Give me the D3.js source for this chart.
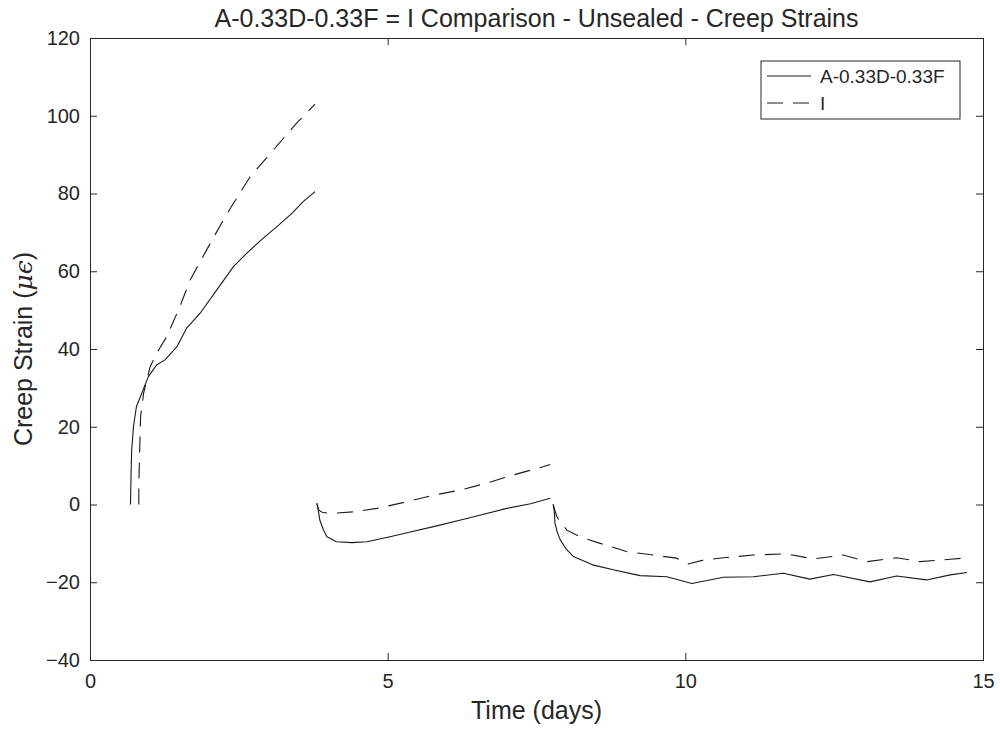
<!DOCTYPE html>
<html>
<head>
<meta charset="utf-8">
<script src="https://cdn.jsdelivr.net/npm/d3@7"></script>
<style>
  html, body { margin: 0; padding: 0; background: #fff; }
  svg { display: block; }
  text { font-family: "Liberation Sans", Arial, Helvetica, sans-serif; fill: #262626; }
</style>
</head>
<body>
<div id="chart"></div>
<script>
// ---------------- data ----------------
const seriesNames = ["A-0.33D-0.33F", "I"];
const titleText = "A-0.33D-0.33F = I Comparison - Unsealed - Creep Strains";
const xLabelText = "Time (days)";
const xTicks = [0, 5, 10, 15];
const yTicks = [-40, -20, 0, 20, 40, 60, 80, 100, 120];

// solid series (A-0.33D-0.33F); null marks a break between loading segments
const solidDays = [0.68,0.69,0.70,0.73,0.78,0.87,0.98,1.12,1.26,1.46,1.62,1.85,2.13,2.41,2.63,2.91,3.14,3.40,3.58,3.78,
  null,
  3.81,3.83,3.86,3.92,3.98,4.14,4.40,4.65,5.04,5.40,5.77,6.33,7.00,7.40,7.73,
  null,
  7.78,7.80,7.81,7.85,7.90,8.00,8.12,8.46,8.79,9.24,9.69,10.11,10.64,11.14,11.65,12.09,12.49,13.10,13.55,14.05,14.45,14.73];
const solidStrain = [0,8,14,20,25.2,28.6,32.9,35.9,37.2,40.6,45.3,49.2,55.2,61.2,64.6,68.5,71.5,75.0,77.9,80.5,
  null,
  0.3,-1,-4,-6.5,-8.3,-9.6,-9.8,-9.6,-8.3,-7.0,-5.7,-3.6,-1.0,0.2,1.6,
  null,
  0,-2,-4.8,-7.2,-9.1,-11.5,-13.4,-15.6,-16.8,-18.3,-18.6,-20.3,-18.7,-18.6,-17.7,-19.2,-18.0,-19.9,-18.4,-19.4,-18.1,-17.5];

// dashed series (I)
const dashedDays = [0.82,0.82,0.83,0.85,0.90,1.01,1.12,1.29,1.51,1.68,1.96,2.24,2.41,2.69,3.08,3.47,3.78,
  null,
  3.81,3.84,3.90,4.03,4.42,4.82,5.32,5.77,6.22,6.66,7.11,7.61,7.73,
  null,
  7.78,7.81,7.84,8.01,8.23,8.57,9.01,9.46,9.85,10.05,10.30,10.64,11.14,11.70,12.15,12.65,13.05,13.55,13.94,14.45,14.73];
const dashedStrain = [0,5,11.4,22.6,28.6,35.4,38.9,43.2,50.9,57.7,65.5,73.2,77.5,84.3,91.2,98.1,103,
  null,
  0.3,-1.4,-2.0,-2.3,-1.9,-1.0,0.7,2.4,3.7,5.5,7.6,9.7,10.3,
  null,
  0,-1.5,-3.1,-6.6,-8.3,-10,-12.1,-13,-13.8,-15.3,-14.3,-13.7,-13,-12.7,-14,-13,-14.7,-13.7,-14.7,-14.1,-13.7];

// ---------------- layout ----------------
const W = 1000, H = 735;
const m = { left: 90, right: 17, top: 38, bottom: 75 };
const x0 = m.left, x1 = W - m.right, y0 = m.top, y1 = H - m.bottom;

const svg = d3.select("#chart").append("svg").attr("width", W).attr("height", H);
svg.append("rect").attr("width", W).attr("height", H).attr("fill", "#fff");

const x = d3.scaleLinear().domain([0, 15]).range([x0, x1]);
const y = d3.scaleLinear().domain([-40, 120]).range([y1, y0]);

const axisColor = "#262626";
const tickLen = 7;

// axes with inward ticks
const gx = svg.append("g").attr("transform", `translate(0,${y1})`)
  .call(d3.axisBottom(x).tickValues(xTicks).tickSize(-tickLen).tickPadding(14).tickFormat(d3.format("d")));
const gxTop = svg.append("g").attr("transform", `translate(0,${y0})`)
  .call(d3.axisTop(x).tickValues(xTicks).tickSize(-tickLen).tickFormat(""));
const gy = svg.append("g").attr("transform", `translate(${x0},0)`)
  .call(d3.axisLeft(y).tickValues(yTicks).tickSize(-tickLen).tickPadding(10).tickFormat(d3.format("d")));
const gyR = svg.append("g").attr("transform", `translate(${x1},0)`)
  .call(d3.axisRight(y).tickValues(yTicks).tickSize(-tickLen).tickFormat(""));

[gx, gxTop, gy, gyR].forEach(g => {
  g.select(".domain").attr("stroke", axisColor).attr("stroke-width", 1);
  g.selectAll(".tick line").attr("stroke", axisColor).attr("stroke-width", 1);
  g.selectAll(".tick text").attr("fill", axisColor).style("font-size", "20px")
    .style("font-family", '"Liberation Sans", Arial, sans-serif');
});

// clip
svg.append("clipPath").attr("id", "clip").append("rect")
  .attr("x", x0).attr("y", y0).attr("width", x1 - x0).attr("height", y1 - y0);

function pts(days, vals) { return days.map((d, i) => ({ d: d, v: vals[i] })); }
const line = d3.line()
  .defined(p => p.d !== null && p.v !== null)
  .x(p => x(p.d)).y(p => y(p.v));

const plot = svg.append("g").attr("clip-path", "url(#clip)");
plot.append("path").datum(pts(solidDays, solidStrain))
  .attr("d", line).attr("fill", "none").attr("stroke", "#1a1a1a").attr("stroke-width", 1.1)
  .attr("stroke-linejoin", "round");
plot.append("path").datum(pts(dashedDays, dashedStrain))
  .attr("d", line).attr("fill", "none").attr("stroke", "#1a1a1a").attr("stroke-width", 1.1)
  .attr("stroke-dasharray", "16,10");

// title
svg.append("text").attr("x", (x0 + x1) / 2).attr("y", 27).attr("text-anchor", "middle")
  .style("font-size", "25px").text(titleText);

// x label
svg.append("text").attr("x", (x0 + x1) / 2).attr("y", 719).attr("text-anchor", "middle")
  .style("font-size", "25px").text(xLabelText);

// y label
const yl = svg.append("text").attr("transform", `translate(32,${(y0 + y1) / 2}) rotate(-90)`)
  .attr("text-anchor", "middle").style("font-size", "25px");
yl.append("tspan").text("Creep Strain (");
yl.append("tspan").style("font-style", "italic").style("font-family", '"DejaVu Serif", "Liberation Serif", serif').text("μϵ");
yl.append("tspan").text(")");

// legend
const lg = svg.append("g");
const lx = 761, ly = 61, lw = 199, lh = 58;
lg.append("rect").attr("x", lx).attr("y", ly).attr("width", lw).attr("height", lh)
  .attr("fill", "#fff").attr("stroke", axisColor).attr("stroke-width", 1);
const legendStyles = [null, "16,10"];
seriesNames.forEach((name, i) => {
  const yy = ly + 15 + i * 27;
  lg.append("line").attr("x1", lx + 6).attr("x2", lx + 50).attr("y1", yy).attr("y2", yy)
    .attr("stroke", "#1a1a1a").attr("stroke-width", 1.1)
    .attr("stroke-dasharray", legendStyles[i]);
  lg.append("text").attr("x", lx + 59).attr("y", yy + 7).style("font-size", "19px").text(name);
});
</script>
</body>
</html>
